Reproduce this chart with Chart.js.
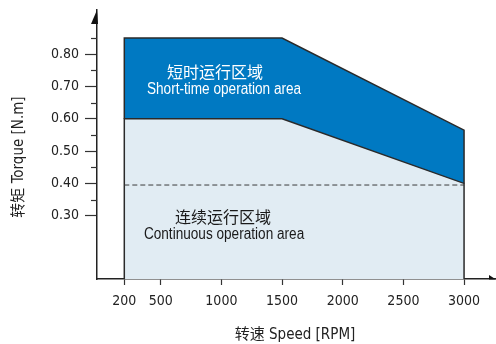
<!DOCTYPE html>
<html><head><meta charset="utf-8">
<script src="https://cdn.jsdelivr.net/npm/chart.js@4.4.0/dist/chart.umd.min.js"></script>
<style>html,body{margin:0;padding:0;background:#fff;}#wrap{width:496px;height:344px;}</style>
</head><body><div id="wrap"><canvas id="c" width="496" height="344"></canvas></div>
<script>
// ---- data ----
const speedTicks = [200, 500, 1000, 1500, 2000, 2500, 3000];
const torqueTicks = [0.30, 0.40, 0.50, 0.60, 0.70, 0.80];
const torqueMinorTicks = [0.35, 0.45, 0.55, 0.65, 0.75, 0.85];
const shortSpeed = [200, 200, 1500, 3000, 3000];
const shortTorque = [0.60, 0.85, 0.85, 0.565, 0.40];
const contSpeed = [200, 200, 1500, 3000, 3000];
const contTorque = [0.104, 0.60, 0.60, 0.40, 0.104];
const ratedSpeed = [200, 3000];
const ratedTorque = [0.395, 0.395];
const xTitle = '转速 Speed [RPM]';
const yTitle = '转矩 Torque [N.m]';
const shortLabelZh = '短时运行区域';
const shortLabelEn = 'Short-time operation area';
const contLabelZh = '连续运行区域';
const contLabelEn = 'Continuous operation area';

const FAM = "'DejaVu Sans Condensed','Noto Sans CJK SC',sans-serif";
const LIB = "'Liberation Sans',Arial,sans-serif";
const CJK = "'Noto Sans CJK SC',sans-serif";
const pts = (xs, ys) => xs.map((x, i) => ({x: x, y: ys[i]}));

function narrowText(ctx, text, cx, cy, font, sx) {
  ctx.save();
  ctx.font = font;
  ctx.translate(cx, cy);
  ctx.scale(sx, 1);
  ctx.fillText(text, 0, 0);
  ctx.restore();
}

const decor = {
  id: 'decor',
  afterDraw(chart) {
    const ctx = chart.ctx, xs = chart.scales.x, ys = chart.scales.y;
    const a = chart.chartArea;
    ctx.save();
    // minor y ticks
    ctx.strokeStyle = '#333'; ctx.lineWidth = 1.2;
    torqueMinorTicks.forEach(v => {
      const py = Math.round(ys.getPixelForValue(v)) + 0.5;
      ctx.beginPath(); ctx.moveTo(a.left - 6, py); ctx.lineTo(a.left, py); ctx.stroke();
    });
    // arrows (half heads)
    ctx.fillStyle = '#111';
    ctx.beginPath();
    ctx.moveTo(a.left, a.top); ctx.lineTo(a.left - 6, a.top + 14); ctx.lineTo(a.left + 1, a.top + 14); ctx.closePath(); ctx.fill();
    ctx.beginPath();
    ctx.moveTo(a.right + 1, a.bottom + 0.5); ctx.lineTo(a.right - 6, a.bottom - 4); ctx.lineTo(a.right - 6, a.bottom + 0.5); ctx.closePath(); ctx.fill();
    // region labels
    ctx.textAlign = 'center'; ctx.textBaseline = 'middle';
    ctx.fillStyle = '#ffffff';
    ctx.font = '16px ' + CJK;
    ctx.fillText(shortLabelZh, xs.getPixelForValue(948), ys.getPixelForValue(0.745));
    narrowText(ctx, shortLabelEn, xs.getPixelForValue(1022), ys.getPixelForValue(0.692), '16px ' + LIB, 0.85);
    ctx.fillStyle = '#1a1a1a';
    ctx.font = '16px ' + CJK;
    ctx.fillText(contLabelZh, xs.getPixelForValue(1014), ys.getPixelForValue(0.296));
    narrowText(ctx, contLabelEn, xs.getPixelForValue(1022), ys.getPixelForValue(0.241), '16px ' + LIB, 0.85);
    // axis titles
    ctx.fillStyle = '#222';
    ctx.font = '15px ' + FAM;
    ctx.fillText(xTitle, (a.left + a.right) / 2 - 1, 335);
    ctx.translate(19, 157); ctx.rotate(-Math.PI / 2);
    ctx.fillText(yTitle, 0, 0);
    ctx.restore();
  }
};

new Chart(document.getElementById('c'), {
  type: 'line',
  data: {
    datasets: [
      { label: 'rated', data: pts(ratedSpeed, ratedTorque), borderColor: '#3a3a3a', borderWidth: 1,
        borderDash: [5, 3], fill: false, pointRadius: 0, tension: 0 },
      { label: 'continuous', data: pts(contSpeed, contTorque), borderColor: '#2a2a2a', borderWidth: 1.5,
        backgroundColor: '#e1ecf3', fill: 'start', pointRadius: 0, tension: 0 },
      { label: 'short', data: pts(shortSpeed, shortTorque), borderColor: '#2a2a2a', borderWidth: 1.5,
        backgroundColor: '#0079c2', fill: 'start', pointRadius: 0, tension: 0 }
    ]
  },
  options: {
    responsive: false, animation: false, devicePixelRatio: 1,
    layout: { padding: { top: 10, right: 1, left: 0, bottom: 0 } },
    plugins: { legend: { display: false }, tooltip: { enabled: false }, filler: { drawTime: 'beforeDatasetsDraw' } },
    scales: {
      x: {
        type: 'linear', min: -25, max: 3255,
        afterBuildTicks: s => { s.ticks = speedTicks.map(v => ({value: v})); },
        afterFit: s => { s.height = 65; s.paddingLeft = 0; s.paddingRight = 0; },
        ticks: { autoSkip: false, maxRotation: 0, padding: 8, color: '#222', font: { family: FAM, size: 14 },
                 callback: v => String(v) },
        grid: { drawOnChartArea: false, tickLength: 6, tickColor: '#333', tickWidth: 1.2 },
        border: { color: '#222', width: 1.5 }
      },
      y: {
        type: 'linear', min: 0.104, max: 0.937,
        afterBuildTicks: s => { s.ticks = torqueTicks.map(v => ({value: v})); },
        afterFit: s => { s.width = 97; s.paddingTop = 0; s.paddingBottom = 0; },
        ticks: { autoSkip: false, padding: 6, color: '#222', font: { family: FAM, size: 14 },
                 callback: v => Number(v).toFixed(2) },
        grid: { drawOnChartArea: false, tickLength: 12, tickColor: '#333', tickWidth: 1.2 },
        border: { color: '#222', width: 1.5 }
      }
    }
  },
  plugins: [decor]
});
</script></body></html>
